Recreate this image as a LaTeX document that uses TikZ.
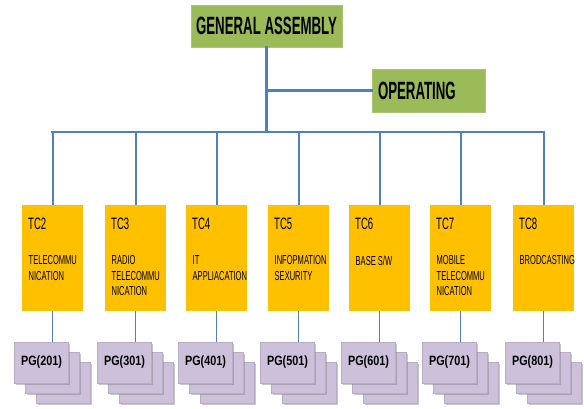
\documentclass[tikz,border=0pt]{standalone}
\usepackage{fontspec}
\setmainfont{Liberation Sans}
\newfontfamily\headfont[FakeStretch=0.53]{Liberation Sans Bold}
\newfontfamily\tcfont[FakeStretch=0.58]{Liberation Sans}
\newfontfamily\pgfont[FakeStretch=0.8]{Liberation Sans Bold}
\usetikzlibrary{shadows}
\definecolor{gagreen}{HTML}{9BBB59}
\definecolor{tcorange}{HTML}{FFC000}
\definecolor{pglilac}{HTML}{CCC0DA}
\definecolor{linkblue}{HTML}{4F81BD}
\tikzset{
  headbox/.style={fill=gagreen, draw=gagreen!85!white, line width=0.4pt, inner sep=0pt,
    font=\headfont\fontsize{25}{25}\selectfont},
  tcbox/.style={fill=tcorange, minimum width=61pt, minimum height=106pt, inner sep=0pt},
  tcname/.style={anchor=base west, inner sep=0pt, font=\tcfont\fontsize{16.5}{16.5}\selectfont},
  tcdesc/.style={anchor=north west, inner sep=0pt, align=left,
    font=\tcfont\fontsize{13}{15.5}\selectfont},
  pgcard/.style={fill=pglilac, draw=pglilac!90!black, line width=0.3pt,
    minimum width=54pt, minimum height=41pt, inner sep=0pt,
    drop shadow={shadow xshift=1.5pt, shadow yshift=-1.5pt, opacity=0.45},
    font=\pgfont\fontsize{13.5}{13.5}\selectfont},
  bus/.style={linkblue, line width=2.5pt, line cap=rect},
  drop/.style={linkblue, line width=2pt},
  twig/.style={linkblue, line width=0.9pt},
}
\begin{document}
\begin{tikzpicture}[x=1pt,y=-1pt]
\useasboundingbox (0,0) rectangle (584,408);
% top of the chart
\node[headbox, minimum width=151pt, minimum height=42pt] (ga) at (266.5,26) {GENERAL ASSEMBLY};
\node[headbox, minimum width=113pt, minimum height=43pt, text width=101pt, align=left] (op) at (428.5,90.5) {OPERATING};
% committees and their project groups
\foreach \n/\cx/\txt in {2/52.5/{TELECOMMU\\NICATION},
    3/135.5/{RADIO\\TELECOMMU\\NICATION},
    4/216.5/{IT\\APPLIACATION},
    5/298.5/{INFOPMATION\\SEXURITY},
    6/379.5/{BASE S/W},
    7/460.5/{MOBILE\\TELECOMMU\\NICATION},
    8/543.5/{BRODCASTING}}{
  \node[tcbox] (tc\n) at (\cx,258) {};
  \node[tcname] (tc\n-name) at (\cx-24.5,229) {TC\n};
  \node[tcdesc] (tc\n-desc) at (\cx-24,255.5) {\txt};
  \node[pgcard] (pg\n-c) at (\cx+11,382.5) {};
  \node[pgcard] (pg\n-b) at (\cx,372.5) {};
  \node[pgcard] (pg\n) at (\cx-11,362.5) {PG(\n01)};
  \draw[twig] (tc\n.south) -- (tc\n.south |- pg\n.north);
}
% links
\coordinate (hub) at (266.5,132);
\draw[bus] (ga.south) -- (hub);
\draw[bus] (ga.south |- op.west) -- (op.west);
\draw[bus] (tc2.north |- hub) -- (tc8.north |- hub);
\foreach \n in {2,...,8}
  \draw[drop] (tc\n.north |- hub) -- (tc\n.north);
\end{tikzpicture}
\end{document}
